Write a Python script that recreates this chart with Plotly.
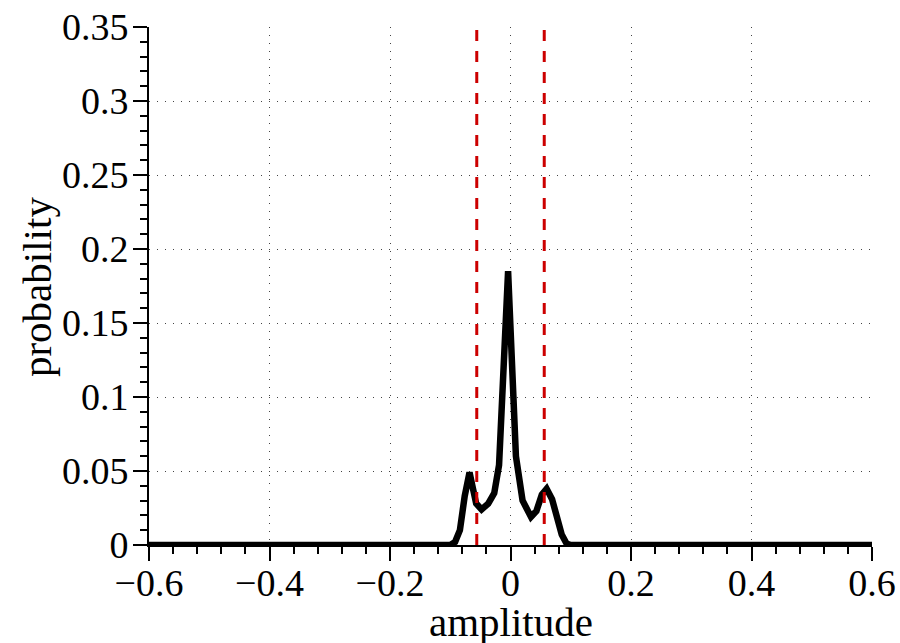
import plotly.graph_objects as go

# Probability density of the amplitude (piecewise-linear curve)
amplitude = [-0.6, -0.1, -0.092, -0.084, -0.076, -0.068, -0.057, -0.048, -0.037,
             -0.027, -0.019, -0.004, 0.009, 0.020, 0.034, 0.043, 0.052, 0.060,
             0.069, 0.077, 0.085, 0.093, 0.1, 0.6]
probability = [0, 0, 0.002, 0.010, 0.033, 0.049, 0.028, 0.024, 0.028,
               0.035, 0.054, 0.185, 0.060, 0.030, 0.019, 0.023, 0.034, 0.038,
               0.031, 0.019, 0.007, 0.001, 0, 0]

# Threshold markers (vertical dashed lines)
thresholds = [-0.056, 0.056]
y_span = [0, 0.35]

x_ticks = [-0.6, -0.4, -0.2, 0, 0.2, 0.4, 0.6]
x_labels = ["\u22120.6", "\u22120.4", "\u22120.2", "0", "0.2", "0.4", "0.6"]
y_ticks = [0, 0.05, 0.1, 0.15, 0.2, 0.25, 0.3, 0.35]
y_labels = ["0", "0.05", "0.1", "0.15", "0.2", "0.25", "0.3", "0.35"]

FONT = "Liberation Serif"

fig = go.Figure()
fig.add_trace(go.Scatter(
    x=amplitude, y=probability, mode="lines",
    line=dict(color="black", width=6.5), showlegend=False,
))
for t in thresholds:
    fig.add_trace(go.Scatter(
        x=[t, t], y=y_span, mode="lines",
        line=dict(color="#cc0000", width=3, dash="11px,10px"),
        showlegend=False,
    ))

axis_common = dict(
    showline=True, linecolor="black", linewidth=2, mirror=False,
    ticks="outside", ticklen=14, tickwidth=2, tickcolor="black",
    showgrid=True, gridcolor="#444444", gridwidth=1, griddash="1px,7px",
    zeroline=False, automargin=False, tickangle=0,
    tickfont=dict(family=FONT, size=38, color="black"),
)

fig.update_xaxes(
    range=[-0.6, 0.6], tickmode="array", tickvals=x_ticks, ticktext=x_labels,
    minor=dict(dtick=0.04, tick0=-0.6, ticks="outside", ticklen=7,
               tickwidth=2, tickcolor="black", showgrid=False),
    ticklabelstandoff=-11,
    **axis_common,
)
fig.update_yaxes(
    range=[0, 0.35], tickmode="array", tickvals=y_ticks, ticktext=y_labels,
    minor=dict(dtick=0.01, tick0=0, ticks="outside", ticklen=7,
               tickwidth=2, tickcolor="black", showgrid=False),
    ticklabelstandoff=-3,
    **axis_common,
)

fig.add_annotation(
    text="amplitude", xref="paper", yref="paper", x=0.5, y=-0.149,
    xanchor="center", yanchor="middle", showarrow=False,
    font=dict(family=FONT, size=41, color="black"),
)
fig.add_annotation(
    text="probability", xref="paper", yref="paper", x=0, y=0.498,
    xanchor="center", yanchor="middle", xshift=-112, textangle=-90,
    showarrow=False, font=dict(family=FONT, size=41, color="black"),
)

fig.update_layout(
    width=900, height=643,
    margin=dict(l=149, r=28, t=27, b=98),
    plot_bgcolor="white", paper_bgcolor="white",
)

fig.write_html("out.html")
